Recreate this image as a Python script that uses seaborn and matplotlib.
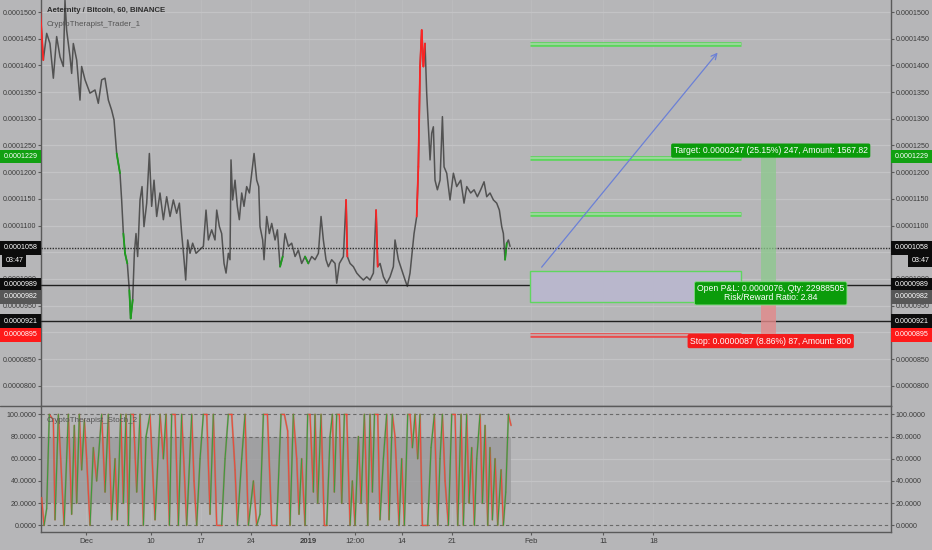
import matplotlib
matplotlib.use("Agg")
import matplotlib.pyplot as plt
import matplotlib.transforms as mtransforms
from matplotlib.patches import Rectangle
from matplotlib.lines import Line2D
import numpy as np
import pandas as pd
import seaborn as sns

# ---------------- data (prices in units of 1e-7 BTC, time in days since 1 Dec 2018) -------------
price_day = [-6.41, -5.95, -5.48, -5.02, -4.55, -4.09, -3.62, -3.16, -2.93, -2.70,
             -2.23, -2.00, -1.77, -1.30, -0.84, -0.61, -0.14, 0.55, 1.25, 1.71,
             2.18, 2.64, 3.11, 3.57, 3.90, 4.27, 4.73, 4.96, 5.20, 5.43,
             5.75, 6.03, 6.22, 6.50, 6.73, 6.96, 7.19, 7.52, 7.80, 8.07,
             8.45, 8.82, 9.14, 9.47, 9.84, 10.30, 10.77, 11.23, 11.70, 12.16,
             12.62, 13.00, 13.32, 13.65, 13.88, 14.16, 14.48, 14.85, 15.32, 15.78,
             16.34, 16.71, 17.04, 17.50, 17.96, 18.20, 18.57, 18.89, 19.22, 19.50,
             19.82, 20.05, 20.19, 20.42, 20.75, 21.07, 21.35, 21.68, 22.00, 22.37,
             22.75, 23.07, 23.40, 23.77, 24.05, 24.23, 24.60, 24.79, 25.16, 25.53,
             25.86, 26.32, 26.65, 27.02, 27.39, 27.71, 28.18, 28.64, 29.11, 29.57,
             30.03, 30.50, 30.96, 31.43, 31.89, 32.36, 32.73, 33.05, 33.42, 33.75,
             34.21, 34.68, 34.91, 35.28, 35.84, 36.21, 36.39, 36.77, 37.23, 37.70,
             38.16, 38.62, 39.09, 39.55, 40.02, 40.39, 40.62, 40.95, 41.41, 41.87,
             42.34, 42.80, 43.03, 43.50, 43.96, 44.43, 44.75, 45.12, 45.49, 45.68,
             46.05, 46.28, 46.52, 46.75, 46.98, 47.21, 47.44, 47.68, 47.91, 48.14,
             48.37, 48.60, 48.93, 49.30, 49.63, 49.86, 50.23, 50.69, 51.16, 51.62,
             52.18, 52.64, 53.02, 53.57, 54.04, 54.50, 54.96, 55.43, 55.80, 56.26,
             56.73, 57.19, 57.56, 57.89, 58.12, 58.35, 58.59, 58.82, 59.05]
price_val = [1510, 1410, 1460, 1441, 1376, 1454, 1416, 1398, 1522, 1466,
             1416, 1385, 1441, 1410, 1335, 1398, 1373, 1348, 1354, 1329,
             1373, 1376, 1335, 1316, 1298, 1235, 1198, 1148, 1085, 1048,
             1029, 979, 926, 961, 1048, 1085, 1042, 1148, 1173, 1098,
             1142, 1235, 1136, 1185, 1117, 1161, 1111, 1154, 1117, 1148,
             1123, 1142, 1085, 1036, 998, 1073, 1048, 1067, 1048, 1054,
             1061, 1129, 1073, 1092, 1073, 1129, 1098, 1085, 1029, 1011,
             1048, 1036, 1223, 1148, 1185, 1136, 1111, 1161, 1136, 1173,
             1161, 1198, 1235, 1185, 1173, 1098, 1073, 1036, 1117, 1085,
             1104, 1073, 1092, 1023, 1042, 1085, 1061, 1067, 1042, 1054,
             1029, 1042, 1029, 1042, 1036, 1048, 1117, 1073, 1036, 1023,
             1036, 1029, 992, 1029, 1042, 1148, 1042, 1029, 1023, 1011,
             1004, 998, 1004, 998, 1011, 1129, 1023, 1029, 1004, 992,
             1004, 1023, 1073, 1036, 1017, 998, 986, 1011, 1061, 1085,
             1117, 1210, 1398, 1466, 1398, 1441, 1348, 1285, 1223, 1273,
             1285, 1185, 1167, 1185, 1304, 1210, 1198, 1148, 1198, 1173,
             1185, 1142, 1173, 1161, 1167, 1154, 1167, 1182, 1154, 1161,
             1148, 1142, 1129, 1098, 1085, 1036, 1067, 1073, 1061]
red_bar_ranges = [(-6.41, -5.95), (36.21, 36.39), (40.39, 40.62), (46.05, 47.21)]
green_bar_ranges = [(4.27, 4.73), (5.20, 5.75), (6.03, 6.50), (27.02, 27.39),
                    (30.50, 30.96), (58.35, 58.59)]

stoch_day = [-6.18, -5.85, -5.48, -5.11, -4.55, -4.32, -3.85, -3.53, -3.06, -2.46,
             -2.00, -1.63, -1.30, -0.93, -0.61, -0.23, 0.09, 0.56, 1.02, 1.48,
             2.18, 2.65, 3.11, 3.57, 4.04, 4.36, 4.83, 5.20, 5.57, 5.90,
             6.22, 6.59, 7.06, 7.52, 7.99, 8.36, 8.91, 9.61, 10.31, 10.77,
             11.14, 11.61, 11.93, 12.40, 12.86, 13.32, 14.02, 14.72, 15.04, 15.41,
             15.88, 16.34, 16.81, 17.27, 17.73, 18.20, 18.89, 19.36, 19.82, 20.29,
             20.75, 21.08, 21.68, 22.14, 22.61, 23.31, 23.77, 24.23, 24.70, 25.26,
             25.86,
             26.55, 27.16, 27.62, 28.08, 28.41, 28.87, 29.34, 29.66, 30.03, 30.50,
             30.87, 31.19, 31.66, 31.89, 32.26, 32.73, 33.19, 33.52, 33.98, 34.31,
             34.58, 34.91, 35.28, 35.61, 35.98, 36.30, 36.77, 37.09, 37.46, 37.93,
             38.30, 38.76, 39.23, 39.55, 39.88, 40.17, 40.62, 40.94, 41.41, 41.87,
             42.20, 42.66, 43.03, 43.59, 43.96, 44.33, 44.80, 45.12, 45.45, 45.82,
             46.19, 46.51, 46.84, 47.21, 47.58, 48.05, 48.51, 48.98, 49.30, 49.63,
             50.00, 50.46, 50.93, 51.39, 51.76, 52.23, 52.55, 53.01, 53.34, 53.71,
             54.08, 54.41, 54.87, 55.20, 55.57, 55.94, 56.26, 56.59, 56.96, 57.33,
             57.80, 58.12, 58.45, 58.82, 59.19]
stoch_val = [25, 0, 15, 100, 95, 5, 100, 60, 0, 100,
             10, 90, 20, 100, 50, 95, 60, 0, 70, 40,
             100, 30, 100, 5, 60, 5, 100, 20, 100, 0,
             100, 100, 30, 100, 0, 80, 100, 5, 100, 60,
             100, 0, 100, 100, 0, 100, 0, 100, 40, 0,
             60, 100, 100, 10, 100, 0, 0, 60, 100, 100,
             50, 0, 60, 100, 0, 40, 0, 10, 100, 100,
             0,
             0, 100, 100, 85, 0, 100, 60, 10, 60, 0,
             100, 100, 30, 100, 20, 100, 0, 0, 80, 100,
             30, 100, 100, 20, 100, 100, 0, 40, 0, 80,
             20, 100, 0, 100, 30, 100, 100, 5, 60, 100,
             5, 100, 80, 0, 60, 0, 100, 100, 70, 100,
             60, 100, 0, 0, 0, 70, 100, 0, 60, 100,
             40, 0, 100, 100, 0, 100, 0, 100, 20, 70,
             0, 60, 100, 20, 90, 0, 70, 5, 60, 0,
             50, 0, 30, 100, 90]

tick_days = [0, 9, 16, 23, 31, 37.5, 44, 51, 62, 72, 79]
tick_labels = ["Dec", "10", "17", "24", "2019", "12:00", "14", "21", "Feb", "11", "18"]
price_ticks = [800, 850, 900, 950, 1000, 1050, 1100, 1150, 1200, 1250, 1300, 1350, 1400, 1450, 1500]
stoch_ticks = [0, 20, 40, 60, 80, 100]
stoch_dashed = [0, 20, 80, 100]

current_price = 1058
entry_price = 982
target_price = 1229
stop_price = 895
black_levels = [989, 921]
zone_levels = [1440, 1227, 1122]
zone_days = [61.8, 91.2]
entry_box = [957, 1015]
arrow_start = (63.2, 1018)
arrow_end = (88.2, 1428)
band_days = [94.0, 96.1]
label_day = 95.35

# ---------------- style -------------
sns.set_theme(style="white")
plt.rcParams["font.family"] = ["Liberation Sans", "DejaVu Sans"]

BG = "#b6b6b8"
GRID = "#c3c3c5"
AXC = "#5a5a5a"
TXT = "#3c3c3c"
TICK_FS = 5.1

fig = plt.figure(figsize=(9.32, 5.5), dpi=100, facecolor=BG)
W, H = 932.0, 550.0
ax = fig.add_axes([41 / W, 1 - 406 / H, 850 / W, 406 / H])
ax2 = fig.add_axes([41 / W, 1 - 532 / H, 850 / W, 126 / H], sharex=ax)

for a in (ax, ax2):
    a.set_facecolor(BG)
    a.spines["top"].set_visible(False)
    for s in ("left", "right", "bottom"):
        a.spines[s].set_color(AXC)
        a.spines[s].set_linewidth(1.0)

# ---------------- price panel -------------
df_price = pd.DataFrame({"day": price_day, "price": price_val})
sns.lineplot(data=df_price, x="day", y="price", ax=ax, color="#525252",
             lw=1.1, estimator=None, sort=False, zorder=3)

segs = []
for i in range(len(price_day) - 1):
    mid = 0.5 * (price_day[i] + price_day[i + 1])
    state = None
    for a0, a1 in red_bar_ranges:
        if a0 <= mid <= a1:
            state = "red"
    for a0, a1 in green_bar_ranges:
        if a0 <= mid <= a1:
            state = "green"
    if state:
        segs.append(dict(seg=i, day=price_day[i], price=price_val[i], state=state))
        segs.append(dict(seg=i, day=price_day[i + 1], price=price_val[i + 1], state=state))
sns.lineplot(data=pd.DataFrame(segs), x="day", y="price", hue="state", units="seg",
             estimator=None, sort=False, palette={"red": "#ff2424", "green": "#1e9e1e"},
             lw=1.3, legend=False, ax=ax, zorder=4)

ax.set_xlim(-6.27, 112.1)
ax.set_ylim(762, 1522.5)
ax.set_xlabel("")
ax.set_ylabel("")
ax.set_yticks(price_ticks)
ax.set_yticklabels([f"{v * 1e-7:.7f}" for v in price_ticks])
ax.tick_params(axis="y", left=True, right=True, labelleft=True, labelright=True,
               length=2, width=0.8, color=AXC, labelsize=TICK_FS, labelcolor=TXT, pad=1.2)
ax.tick_params(axis="x", bottom=False, labelbottom=False)
ax.yaxis.grid(True, color=GRID, lw=0.9)
ax.xaxis.grid(True, color=GRID, lw=0.6, alpha=0.5)
ax.set_axisbelow(True)

# horizontal levels
ax.axhline(current_price, color="#2e2e2e", lw=1.0, ls=(0, (1, 1)), zorder=5)
for lv in black_levels:
    ax.axhline(lv, color="#202020", lw=1.0, zorder=5)

# target zones
for lv in zone_levels:
    ax.hlines(lv, zone_days[0], zone_days[1], color="#5cd65c", lw=3.4, zorder=5)
    ax.hlines(lv, zone_days[0], zone_days[1], color="#9fd89f", lw=1.3, zorder=6)
ax.hlines(stop_price, zone_days[0], zone_days[1], color="#ea4c4c", lw=3.4, zorder=5)
ax.hlines(stop_price, zone_days[0], zone_days[1], color="#c8a8a8", lw=1.3, zorder=6)
ax.add_patch(Rectangle((zone_days[0], entry_box[0]), zone_days[1] - zone_days[0],
                       entry_box[1] - entry_box[0], facecolor="#b9b7cc",
                       edgecolor="#5fd65f", lw=1.0, zorder=5))
ax.annotate("", xy=arrow_end, xytext=arrow_start,
            arrowprops=dict(arrowstyle="->", color="#6b80d6", lw=0.9,
                            mutation_scale=10), zorder=6)

# long position bands
ax.fill_between(band_days, entry_price, target_price, color="#8cc98c", alpha=0.75, lw=0, zorder=5)
ax.fill_between(band_days, stop_price, entry_price, color="#e38a8a", alpha=0.8, lw=0, zorder=5)

ax.text(label_day, target_price + 3, "Target: 0.0000247 (25.15%) 247, Amount: 1567.82",
        ha="center", va="bottom", fontsize=6.2, color="white", zorder=9,
        bbox=dict(boxstyle="round,pad=0.3,rounding_size=0.2", fc="#0b9c0b", ec="none"))
ax.text(label_day, 973, "Open P&L: 0.0000076, Qty: 22988505\nRisk/Reward Ratio: 2.84",
        ha="center", va="center", fontsize=6.2, color="white", zorder=9, linespacing=1.0,
        bbox=dict(boxstyle="round,pad=0.3,rounding_size=0.2", fc="#0b9c0b", ec="#7fdc7f", lw=0.6))
ax.text(label_day, stop_price - 3, "Stop: 0.0000087 (8.86%) 87, Amount: 800",
        ha="center", va="top", fontsize=6.2, color="white", zorder=9,
        bbox=dict(boxstyle="round,pad=0.3,rounding_size=0.2", fc="#f51c1c", ec="none"))

# axis price boxes
trans = mtransforms.blended_transform_factory(ax.transAxes, ax.transData)
def price_box(y, text, fc, dy=0):
    for xa in (-0.0241, 1.0241):
        ax.annotate(text, xy=(xa, y), xycoords=trans, xytext=(0, dy),
                    textcoords="offset points", ha="center", va="center",
                    fontsize=TICK_FS, color="white", annotation_clip=False, zorder=12,
                    bbox=dict(boxstyle="square,pad=0.45", fc=fc, ec="none"))

price_box(target_price, f"{target_price * 1e-7:.7f}", "#12a012")
price_box(current_price, f"{current_price * 1e-7:.7f}", "#0c0c0c")
price_box(black_levels[0], f"{black_levels[0] * 1e-7:.7f}", "#0c0c0c")
price_box(entry_price, f"{entry_price * 1e-7:.7f}", "#575757", dy=-6)
price_box(black_levels[1], f"{black_levels[1] * 1e-7:.7f}", "#0c0c0c")
price_box(stop_price, f"{stop_price * 1e-7:.7f}", "#ff1a1a")
for xa, ha in ((-0.042, "left"), (1.045, "right")):
    ax.annotate("03:47", xy=(xa, current_price), xycoords=trans, xytext=(0, -9),
                textcoords="offset points", ha=ha, va="center", fontsize=TICK_FS,
                color="white", annotation_clip=False, zorder=12,
                bbox=dict(boxstyle="square,pad=0.45", fc="#0c0c0c", ec="none"))

fig.text(47 / W, 1 - 11 / H, "Aeternity / Bitcoin, 60, BINANCE", fontsize=5.6,
         color="#2e2e2e", va="center", ha="left", fontweight="semibold")
fig.text(47 / W, 1 - 24 / H, "CryptoTherapist_Trader_1", fontsize=5.8,
         color="#555555", va="center", ha="left")

# ---------------- stoch panel -------------
ax2.fill_between([-6.27, stoch_day[-1]], 20, 80, color="#9b9b9d", alpha=0.8, lw=0, zorder=1)
for lv in (40, 60):
    ax2.axhline(lv, color=GRID, lw=0.9, zorder=0.5)
for lv in stoch_dashed:
    ax2.axhline(lv, color="#6a6a6a", lw=0.8, ls=(0, (3, 2.5)), zorder=2)

df_st = pd.DataFrame({"day": stoch_day, "k": stoch_val})
sns.lineplot(data=df_st, x="day", y="k", ax=ax2, color="#9a6a3c", lw=1.4,
             alpha=0.45, estimator=None, sort=False, zorder=3)
ssegs = []
for i in range(len(stoch_day) - 1):
    d = "up" if stoch_val[i + 1] > stoch_val[i] else "down"
    ssegs.append(dict(seg=i, day=stoch_day[i], k=stoch_val[i], dir=d))
    ssegs.append(dict(seg=i, day=stoch_day[i + 1], k=stoch_val[i + 1], dir=d))
sns.lineplot(data=pd.DataFrame(ssegs), x="day", y="k", hue="dir", units="seg",
             estimator=None, sort=False, palette={"up": "#3d9a3d", "down": "#ec4a3c"},
             lw=0.8, legend=False, ax=ax2, zorder=4)

ax2.set_ylim(-6, 107.5)
ax2.set_xlim(-6.27, 112.1)
ax2.set_xlabel("")
ax2.set_ylabel("")
ax2.set_yticks(stoch_ticks)
ax2.set_yticklabels([f"{v:.4f}" for v in stoch_ticks])
ax2.tick_params(axis="y", left=True, right=True, labelleft=True, labelright=True,
                length=2, width=0.8, color=AXC, labelsize=TICK_FS, labelcolor=TXT, pad=1.2)
ax2.set_xticks(tick_days)
ax2.set_xticklabels(tick_labels)
ax2.tick_params(axis="x", bottom=True, labelbottom=True, length=2, width=0.8,
                color=AXC, labelsize=5.6, labelcolor=TXT, pad=2.5)
for lab in ax2.get_xticklabels():
    if lab.get_text() == "2019":
        lab.set_fontweight("bold")
ax2.yaxis.grid(False)
ax2.xaxis.grid(True, color=GRID, lw=0.6, alpha=0.5)
ax2.set_axisbelow(True)

fig.text(47 / W, 1 - 420 / H, "CryptoTherapist_Stoch_2", fontsize=5.8,
         color="#555555", va="center", ha="left")

fig.add_artist(Line2D([0, 891 / W], [1 - 406 / H, 1 - 406 / H], color=AXC, lw=1.0))

fig.savefig("out.png", dpi=100, facecolor=BG)
